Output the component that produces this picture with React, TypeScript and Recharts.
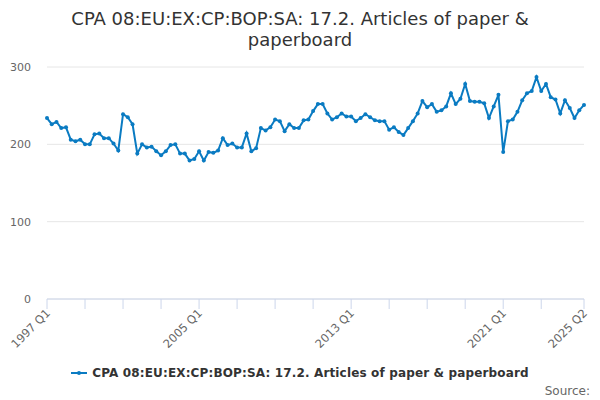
import React from "react";
import { LineChart, Line, XAxis, YAxis, CartesianGrid } from "recharts";

const startYear = 1997;
const values: number[] = [
  234, 226, 229, 221, 222, 206, 204, 206, 200, 200,
  213, 214, 208, 208, 201, 192, 239, 235, 226, 188,
  200, 196, 197, 191, 186, 191, 199, 200, 188, 188,
  179, 181, 191, 179, 190, 189, 192, 208, 199, 201,
  196, 196, 214, 191, 195, 221, 218, 222, 232, 230,
  217, 226, 221, 221, 231, 232, 243, 252, 252, 240,
  232, 235, 240, 236, 236, 230, 234, 239, 235, 231,
  230, 230, 219, 222, 216, 212, 221, 230, 240, 256,
  248, 252, 242, 244, 249, 266, 252, 259, 278, 256,
  255, 255, 253, 234, 249, 264, 190, 230, 232, 242,
  257, 266, 269, 287, 269, 278, 261, 258, 240, 257,
  247, 234, 244, 251,
];

const categories: string[] = values.map(
  (_, i) => `${startYear + Math.floor(i / 4)} Q${(i % 4) + 1}`
);

const tickMarks: string[] = [
  "1997 Q1", "1999 Q1", "2001 Q1", "2003 Q1", "2005 Q1", "2007 Q1", "2009 Q1",
  "2011 Q1", "2013 Q1", "2015 Q1", "2017 Q1", "2019 Q1", "2021 Q1", "2023 Q1", "2025 Q2",
];
const tickLabels: string[] = ["1997 Q1", "2005 Q1", "2013 Q1", "2021 Q1", "2025 Q2"];
const yTicks: number[] = [0, 100, 200, 300];

const seriesName = "CPA 08:EU:EX:CP:BOP:SA: 17.2. Articles of paper & paperboard";
const titleLines: string[] = ["CPA 08:EU:EX:CP:BOP:SA: 17.2. Articles of paper &", "paperboard"];

const data = categories.map((q, i) => ({ q, v: values[i] }));

const COLOR = "#0a7bc2";
const FONT = "'DejaVu Sans', Verdana, sans-serif";

const XTick = (props: any) => {
  const { x, y, payload } = props;
  if (!tickLabels.includes(payload.value)) return null;
  return (
    <g transform={`translate(${x + 1},${y})`}>
      <text
        transform="rotate(-45)"
        textAnchor="end"
        fill="#666666"
        fontSize={11.5}
        fontFamily={FONT}
        dy={4}
      >
        {payload.value}
      </text>
    </g>
  );
};

const YTick = (props: any) => {
  const { y, payload } = props;
  return (
    <text x={31} y={y + 4} textAnchor="end" fill="#666666" fontSize={11} fontFamily={FONT}>
      {payload.value}
    </text>
  );
};

export default function App() {
  return (
    <div
      style={{
        position: "absolute",
        left: 0,
        top: 0,
        width: 600,
        height: 400,
        background: "#ffffff",
        fontFamily: FONT,
      }}
    >
      <div
        style={{
          position: "absolute",
          top: 8,
          left: 0,
          width: 600,
          textAlign: "center",
          fontSize: 18,
          lineHeight: "21px",
          color: "#333333",
        }}
      >
        {titleLines.map((t) => (
          <div key={t}>{t}</div>
        ))}
      </div>
      <LineChart
        width={600}
        height={400}
        data={data}
        margin={{ top: 67, right: 16, left: 0, bottom: 0 }}
      >
        <CartesianGrid horizontal vertical={false} stroke="#e6e6e6" />
        <XAxis
          dataKey="q"
          ticks={tickMarks}
          interval={0}
          tick={<XTick />}
          tickLine={{ stroke: "#ccd6eb" }}
          tickSize={10}
          axisLine={{ stroke: "#ccd6eb" }}
          height={101}
          padding={{ left: 0, right: 0 }}
        />
        <YAxis
          domain={[0, 300]}
          ticks={yTicks}
          width={47}
          axisLine={false}
          tickLine={false}
          tick={<YTick />}
        />
        <Line
          type="linear"
          dataKey="v"
          stroke={COLOR}
          strokeWidth={2}
          dot={{ r: 2, fill: COLOR, stroke: COLOR, strokeWidth: 0 }}
          isAnimationActive={false}
        />
      </LineChart>
      <div
        style={{
          position: "absolute",
          top: 366,
          left: 0,
          width: 600,
          display: "flex",
          justifyContent: "center",
          alignItems: "center",
          fontSize: 12,
          fontWeight: "bold",
          letterSpacing: "0.15px",
          color: "#333333",
        }}
      >
        <svg width={16} height={12} style={{ marginRight: 5 }}>
          <line x1={0} y1={6} x2={16} y2={6} stroke={COLOR} strokeWidth={2} />
          <circle cx={8} cy={6} r={2} fill={COLOR} />
        </svg>
        <span>{seriesName}</span>
      </div>
      <div
        style={{
          position: "absolute",
          top: 384,
          right: 10,
          fontSize: 12,
          color: "#666666",
        }}
      >
        Source:
      </div>
    </div>
  );
}
